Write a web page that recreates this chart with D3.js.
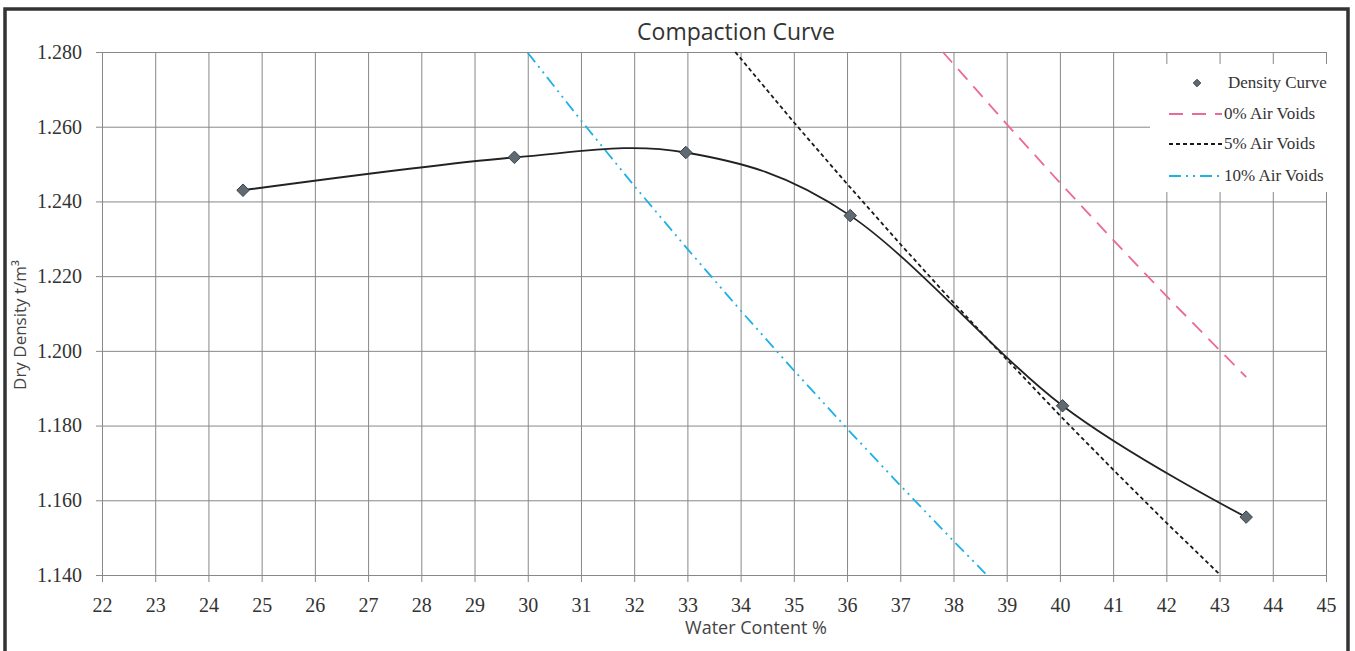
<!DOCTYPE html>
<html>
<head>
<meta charset="utf-8">
<script src="https://cdn.jsdelivr.net/npm/d3@7"></script>
<style>
  body { margin: 0; background: #fff; }
  svg { display: block; }
</style>
</head>
<body>
<div id="chart"></div>
<script>
// Density test points (water content %, dry density t/m3)
const densityWater = [24.65, 29.75, 32.97, 36.06, 40.05, 43.5];
const densityValues = [1.243, 1.2518, 1.2531, 1.2362, 1.1853, 1.1555];

// Air void lines
const voids0Water = [37.8, 39, 40, 41, 42, 43, 43.5];
const voids0Values = [1.280, 1.2607, 1.2450, 1.2297, 1.2147, 1.2002, 1.1930];

const voids5Water = [33.9, 35, 36, 37, 38, 39, 40, 41, 42, 43];
const voids5Values = [1.280, 1.2612, 1.2447, 1.2286, 1.2129, 1.1977, 1.1827, 1.1682, 1.1540, 1.1402];

const voids10Water = [30.0, 31, 32, 33, 34, 35, 36, 37, 38, 38.6];
const voids10Values = [1.2798, 1.2617, 1.2442, 1.2273, 1.2108, 1.1948, 1.1792, 1.1640, 1.1491, 1.1404];

const xTicks = d3.range(22, 46, 1);
const yTicks = [1.14, 1.16, 1.18, 1.20, 1.22, 1.24, 1.26, 1.28];

const legendNames = ["Density Curve", "0% Air Voids", "5% Air Voids", "10% Air Voids"];

const W = 1355, H = 651;
const plot = { left: 102, right: 1326, top: 52, bottom: 575 };

const svg = d3.select("#chart").append("svg")
    .attr("width", W)
    .attr("height", H);

svg.append("rect").attr("width", W).attr("height", H).attr("fill", "#fff");

// outer frame
svg.append("rect")
    .attr("x", 5).attr("y", 9)
    .attr("width", 1343).attr("height", 660)
    .attr("fill", "none")
    .attr("stroke", "#333")
    .attr("stroke-width", 3.5);

const x = d3.scaleLinear().domain([22, 45]).range([plot.left, plot.right]);
const y = d3.scaleLinear().domain([1.14, 1.28]).range([plot.bottom, plot.top]);

const serif = "'Liberation Serif', 'DejaVu Serif', serif";
const sans = "'Open Sans', 'Noto Sans', sans-serif";

// gridlines (tick marks stick out past the plot)
const xGrid = svg.append("g")
    .attr("transform", `translate(0,${plot.bottom})`)
    .call(d3.axisBottom(x).tickValues(xTicks).tickSizeOuter(0).tickFormat(""));
xGrid.selectAll("line").attr("y1", 7).attr("y2", -(plot.bottom - plot.top));
xGrid.select(".domain").remove();

const yGrid = svg.append("g")
    .attr("transform", `translate(${plot.left},0)`)
    .call(d3.axisLeft(y).tickValues(yTicks).tickSizeOuter(0).tickFormat(""));
yGrid.selectAll("line").attr("x1", -6).attr("x2", plot.right - plot.left);
yGrid.select(".domain").remove();

svg.selectAll(".tick line").attr("stroke", "#888").attr("stroke-width", 1);

// tick labels
const xAxis = svg.append("g")
    .attr("transform", `translate(0,${plot.bottom})`)
    .call(d3.axisBottom(x).tickValues(xTicks).tickSize(0).tickPadding(23).tickFormat(d3.format("d")));
xAxis.select(".domain").remove();
xAxis.selectAll("text")
    .attr("font-family", serif).attr("font-size", 20).attr("fill", "#333");

const yAxis = svg.append("g")
    .attr("transform", `translate(${plot.left},0)`)
    .call(d3.axisLeft(y).tickValues(yTicks).tickSize(0).tickPadding(20).tickFormat(d3.format(".3f")));
yAxis.select(".domain").remove();
yAxis.selectAll("text")
    .attr("font-family", serif).attr("font-size", 20).attr("fill", "#333");

// title and axis titles
svg.append("text")
    .attr("x", 736).attr("y", 40)
    .attr("text-anchor", "middle")
    .attr("font-family", sans).attr("font-size", 23).attr("fill", "#333")
    .text("Compaction Curve");

svg.append("text")
    .attr("x", 756).attr("y", 634)
    .attr("text-anchor", "middle")
    .attr("font-family", sans).attr("font-size", 18).attr("fill", "#444")
    .text("Water Content %");

svg.append("text")
    .attr("transform", "translate(26,325) rotate(-90)")
    .attr("text-anchor", "middle")
    .attr("font-family", sans).attr("font-size", 17).attr("fill", "#444")
    .text("Dry Density t/m³");

// series
const line = d3.line().x(d => x(d[0])).y(d => y(d[1]));
const smooth = d3.line().x(d => x(d[0])).y(d => y(d[1])).curve(d3.curveCardinal.tension(0));

const series = [
    { w: voids10Water, v: voids10Values, color: "#1fb0e6", dash: "12,5,2,5,2,5" },
    { w: voids5Water, v: voids5Values, color: "#1a1a1a", dash: "4,3" },
    { w: voids0Water, v: voids0Values, color: "#ea6a9c", dash: "14,9" }
];

series.forEach(s => {
    svg.append("path")
        .datum(d3.zip(s.w, s.v))
        .attr("d", line)
        .attr("fill", "none")
        .attr("stroke", s.color)
        .attr("stroke-width", 1.8)
        .attr("stroke-dasharray", s.dash);
});

const densityPts = d3.zip(densityWater, densityValues);
svg.append("path")
    .datum(densityPts)
    .attr("d", smooth)
    .attr("fill", "none")
    .attr("stroke", "#222")
    .attr("stroke-width", 1.8);

const diamond = d3.symbol().type(d3.symbolDiamond2).size(100);
svg.selectAll(".pt")
    .data(densityPts)
    .join("path")
    .attr("class", "pt")
    .attr("transform", d => `translate(${x(d[0])},${y(d[1])})`)
    .attr("d", diamond)
    .attr("fill", "#5f6a72")
    .attr("stroke", "#3b4246")
    .attr("stroke-width", 1);

// legend
const lg = svg.append("g");
lg.append("rect")
    .attr("x", 1150).attr("y", 64)
    .attr("width", 190).attr("height", 128)
    .attr("fill", "#fff");

const legendY = [83, 114, 144, 176];
const legendStyle = [null, series[2], series[1], series[0]];

legendNames.forEach((name, i) => {
    const yy = legendY[i];
    if (i === 0) {
        lg.append("path")
            .attr("transform", `translate(1197,${yy})`)
            .attr("d", d3.symbol().type(d3.symbolDiamond2).size(36))
            .attr("fill", "#5f6a72").attr("stroke", "#3b4246");
    } else {
        lg.append("line")
            .attr("x1", 1169).attr("x2", 1222)
            .attr("y1", yy).attr("y2", yy)
            .attr("stroke", legendStyle[i].color)
            .attr("stroke-width", 1.8)
            .attr("stroke-dasharray", legendStyle[i].dash);
    }
    lg.append("text")
        .attr("x", i === 0 ? 1228 : 1224).attr("y", yy + 5)
        .attr("font-family", serif).attr("font-size", 17).attr("fill", "#333")
        .text(name);
});
</script>
</body>
</html>
